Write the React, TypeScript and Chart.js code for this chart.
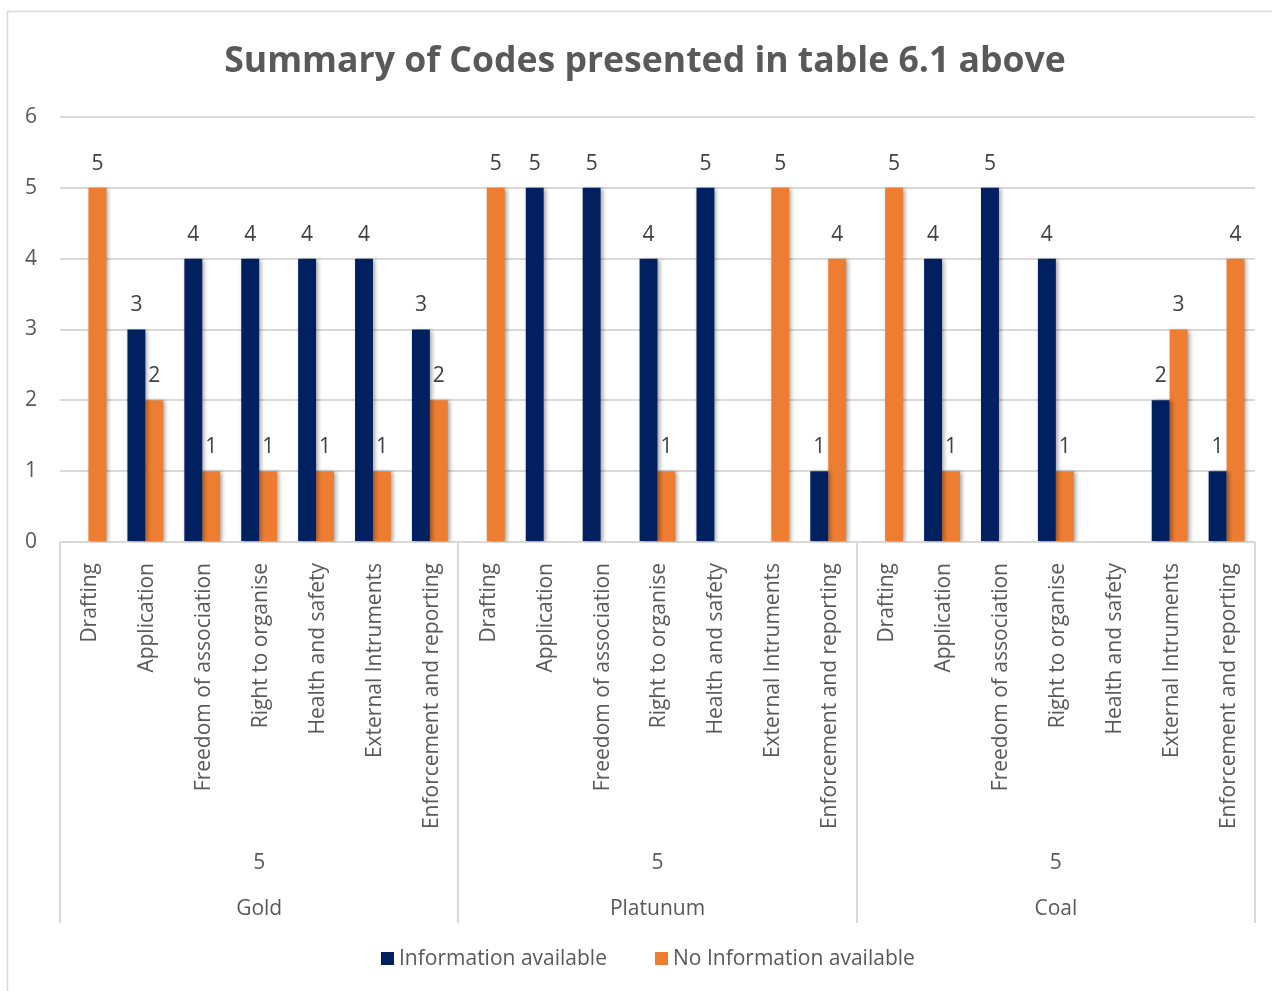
import React, { useEffect, useRef } from "react";
import { Chart, registerables } from "chart.js";

Chart.register(...registerables);

const titleText = "Summary of Codes presented in table 6.1 above";
const categories = [
  "Drafting",
  "Application",
  "Freedom of association",
  "Right to organise",
  "Health and safety",
  "External Intruments",
  "Enforcement and reporting",
];
const groups = ["Gold", "Platunum", "Coal"];
const groupSubLabels = ["5", "5", "5"];
const seriesNames = ["Information available", "No Information available"];

const infoGold = [null, 3, 4, 4, 4, 4, 3];
const noInfoGold = [5, 2, 1, 1, 1, 1, 2];
const infoPlatunum = [null, 5, 5, 4, 5, null, 1];
const noInfoPlatunum = [5, null, null, 1, null, 5, 4];
const infoCoal = [null, 4, 5, 4, null, 2, 1];
const noInfoCoal = [5, 1, null, 1, null, 3, 4];

const yMin = 0;
const yMax = 6;
const yStep = 1;

const NAVY = "#002060";
const ORANGE = "#ED7D31";
const TEXT = "#595959";
const GRID = "#d9d9d9";
const FONT = "'Open Sans', 'Liberation Sans', sans-serif";

export default function App() {
  const ref = useRef<HTMLCanvasElement | null>(null);

  useEffect(() => {
    const canvas = ref.current;
    if (!canvas) return;

    const labels: string[] = [];
    groups.forEach(() => categories.forEach((c) => labels.push(c)));
    const info = [...infoGold, ...infoPlatunum, ...infoCoal];
    const noInfo = [...noInfoGold, ...noInfoPlatunum, ...noInfoCoal];

    const decor = {
      id: "decor",
      beforeDatasetsDraw(chart: any) {
        const ctx = chart.ctx;
        ctx.save();
        ctx.shadowColor = "rgba(0,0,0,0.35)";
        ctx.shadowBlur = 4;
        ctx.shadowOffsetX = 2;
        ctx.shadowOffsetY = 1;
      },
      afterDatasetsDraw(chart: any) {
        chart.ctx.restore();
      },
      afterDraw(chart: any) {
        const ctx = chart.ctx;
        const area = chart.chartArea;
        const xs = chart.scales.x;
        ctx.save();

        // outer border
        ctx.strokeStyle = GRID;
        ctx.lineWidth = 1.5;
        ctx.strokeRect(7.5, 11.5, 1300, 1000);

        // title
        ctx.fillStyle = TEXT;
        ctx.font = `bold 35.6px ${FONT}`;
        ctx.textAlign = "center";
        ctx.textBaseline = "middle";
        ctx.fillText(titleText, 645, 62);

        // data labels
        ctx.font = `21px ${FONT}`;
        ctx.fillStyle = "#404040";
        chart.data.datasets.forEach((ds: any, di: number) => {
          const meta = chart.getDatasetMeta(di);
          meta.data.forEach((el: any, i: number) => {
            const v = ds.data[i];
            if (v === null || v === undefined) return;
            ctx.fillText(String(v), el.x, el.y - 24);
          });
        });

        // rotated category labels
        ctx.fillStyle = TEXT;
        ctx.font = `21px ${FONT}`;
        labels.forEach((lab, i) => {
          const x = xs.getPixelForValue(i) + 2;
          ctx.save();
          ctx.translate(x, area.bottom + 21);
          ctx.rotate(-Math.PI / 2);
          ctx.textAlign = "right";
          ctx.textBaseline = "middle";
          ctx.fillText(lab, 0, 0);
          ctx.restore();
        });

        // group separators and labels
        const n = categories.length;
        const catW = (area.right - area.left) / labels.length;
        ctx.strokeStyle = GRID;
        ctx.lineWidth = 2;
        for (let g = 0; g <= groups.length; g++) {
          const x = Math.round(area.left + g * n * catW);
          ctx.beginPath();
          ctx.moveTo(x, area.bottom);
          ctx.lineTo(x, area.bottom + 381);
          ctx.stroke();
        }
        ctx.textAlign = "center";
        ctx.textBaseline = "middle";
        groups.forEach((gname, g) => {
          const cx = area.left + (g + 0.5) * n * catW;
          ctx.fillText(groupSubLabels[g], cx, area.bottom + 321);
          ctx.fillText(gname, cx, area.bottom + 367);
        });

        // legend
        const legendY = 959;
        ctx.font = `21px ${FONT}`;
        ctx.textAlign = "left";
        const colors = [NAVY, ORANGE];
        const starts = [381, 655];
        seriesNames.forEach((name, i) => {
          ctx.fillStyle = colors[i];
          ctx.fillRect(starts[i], legendY - 7, 13, 13);
          ctx.fillStyle = TEXT;
          ctx.fillText(name, starts[i] + 18, legendY);
        });

        ctx.restore();
      },
    };

    const chart = new Chart(canvas, {
      type: "bar",
      data: {
        labels,
        datasets: [
          {
            label: seriesNames[0],
            data: info,
            backgroundColor: NAVY,
            categoryPercentage: 0.63,
            barPercentage: 1,
          },
          {
            label: seriesNames[1],
            data: noInfo,
            backgroundColor: ORANGE,
            categoryPercentage: 0.63,
            barPercentage: 1,
          },
        ],
      },
      options: {
        animation: false,
        responsive: false,
        maintainAspectRatio: false,
        layout: { padding: { left: 0, top: 117, right: 17, bottom: 449 } },
        plugins: {
          legend: { display: false },
          title: { display: false },
          tooltip: { enabled: false },
        },
        scales: {
          x: { display: false },
          y: {
            min: yMin,
            max: yMax,
            ticks: {
              stepSize: yStep,
              color: TEXT,
              font: { size: 21, family: FONT },
              padding: 23,
            },
            grid: { color: GRID, lineWidth: 2, drawTicks: false },
            border: { display: false },
            afterFit(scale: any) {
              scale.width = 60;
            },
          },
        },
      },
      plugins: [decor],
    } as any);

    return () => chart.destroy();
  }, []);

  return (
    <div style={{ position: "absolute", left: 0, top: 0, width: 1272, height: 991, background: "#fff" }}>
      <canvas ref={ref} width={1272} height={991} style={{ width: 1272, height: 991 }} />
    </div>
  );
}
